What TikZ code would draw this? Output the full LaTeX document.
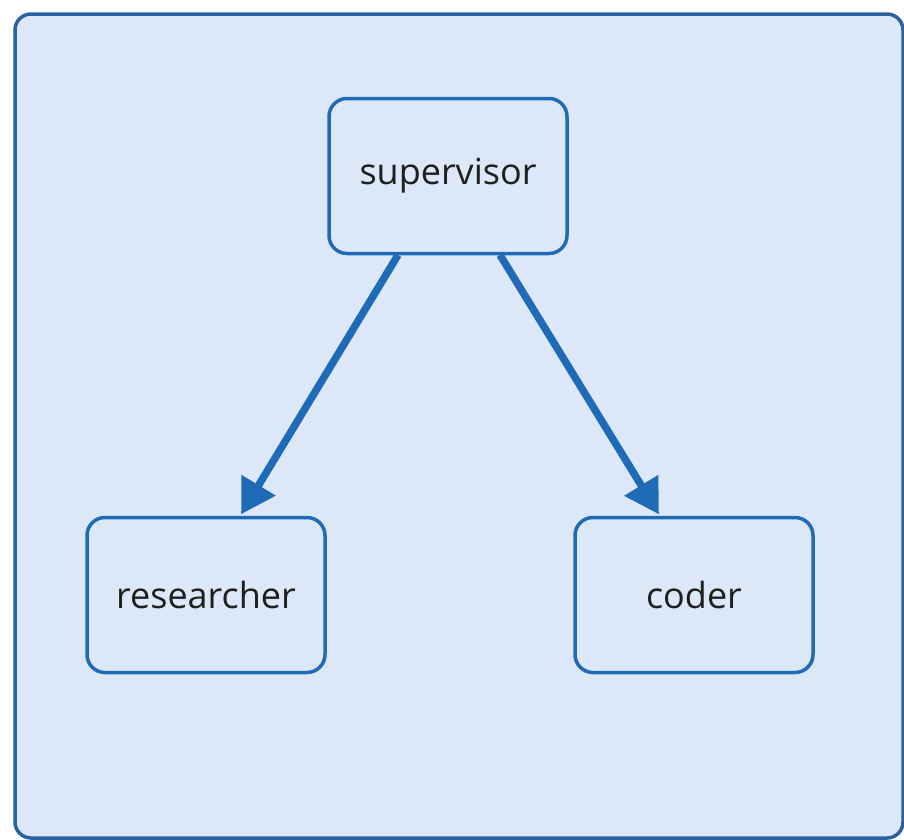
\documentclass[tikz,border=0pt]{standalone}
\usepackage{fontspec}
\setmainfont{Open Sans}
\usetikzlibrary{arrows.meta}
\definecolor{bgfill}{HTML}{DCE8F7}
\definecolor{outerline}{HTML}{2A62A0}
\definecolor{boxline}{HTML}{1F6BB5}
\definecolor{arrowcol}{HTML}{1F6BB8}
\tikzset{
  agent/.style={draw=boxline, line width=3.5pt, rounded corners=18pt, minimum width=238pt, minimum height=155pt, inner sep=0pt, font=\fontsize{36}{44}\selectfont, text=black!88},
  flow/.style={draw=arrowcol, line width=7.5pt, -{Triangle[length=34pt,width=38pt]}, shorten >=2pt}
}
\begin{document}
\begin{tikzpicture}[x=1pt,y=-1pt]
\useasboundingbox (0,0) rectangle (904,839);
\fill[white] (0,0) rectangle (904,839);
\draw[fill=bgfill, draw=outerline, line width=3.5pt, rounded corners=16pt] (15,14) rectangle (903,838);
\node[agent] (sup) at (448,176) {supervisor};
\node[agent] (res) at (206,595) {researcher};
\node[agent] (cod) at (694,595) {coder};
\draw[flow] (398,255) -- (240,516);
\draw[flow] (500,255) -- (660,516);
\end{tikzpicture}
\end{document}
